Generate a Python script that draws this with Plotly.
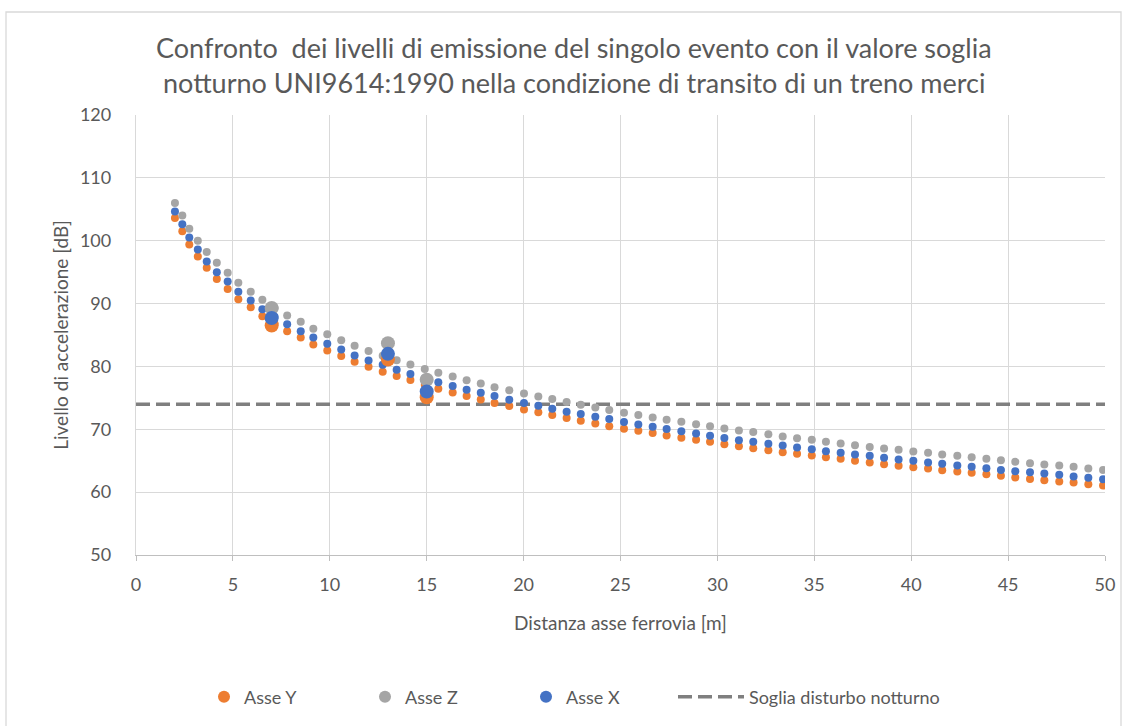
import plotly.graph_objects as go

# Distanze dall'asse ferrovia [m] del modello di propagazione
distanza_m = [
    2.01, 2.39, 2.75, 3.19, 3.65, 4.17, 4.73, 5.28, 5.92, 6.52, 7.15, 7.80, 8.50, 9.15,
    9.87, 10.59, 11.28, 12.00, 12.73, 13.45, 14.16, 14.90, 15.60, 16.34, 17.06, 17.79, 18.50, 19.26,
    20.02, 20.76, 21.48, 22.22, 22.95, 23.70, 24.42, 25.18, 25.92, 26.66, 27.38, 28.14, 28.90, 29.62,
    30.36, 31.11, 31.85, 32.63, 33.37, 34.11, 34.87, 35.60, 36.36, 37.10, 37.86, 38.60, 39.35,
    40.11, 40.87, 41.60, 42.38, 43.12, 43.88, 44.63, 45.37, 46.13, 46.87, 47.64, 48.38, 49.14, 49.90,
]

# Livelli di accelerazione [dB] per asse
asse_y = [
    103.6, 101.5, 99.4, 97.5, 95.7, 93.9, 92.3, 90.7, 89.4, 88.0, 86.8, 85.6, 84.6, 83.5,
    82.55, 81.66, 80.75, 79.96, 79.16, 78.47, 77.83, 77.1, 76.45, 75.86, 75.3, 74.75, 74.2, 73.7,
    73.15, 72.73, 72.26, 71.78, 71.35, 70.92, 70.5, 70.08, 69.76, 69.39, 69.01, 68.64, 68.32, 68.0,
    67.63, 67.32, 67.0, 66.68, 66.36, 66.09, 65.82, 65.56, 65.3, 64.98, 64.71, 64.45, 64.18,
    63.97, 63.75, 63.49, 63.28, 63.07, 62.86, 62.59, 62.32, 62.11, 61.9, 61.68, 61.52, 61.26, 61.04,
]
asse_z = [
    106.0, 104.0, 101.9, 100.0, 98.2, 96.5, 94.9, 93.3, 91.9, 90.6, 89.3, 88.1, 87.1, 86.0,
    85.1, 84.15, 83.3, 82.45, 81.7, 81.0, 80.3, 79.6, 79.0, 78.4, 77.8, 77.3, 76.7, 76.2,
    75.7, 75.22, 74.8, 74.33, 73.9, 73.47, 73.05, 72.63, 72.26, 71.88, 71.5, 71.2, 70.82, 70.5,
    70.13, 69.81, 69.55, 69.23, 68.85, 68.59, 68.32, 68.0, 67.74, 67.47, 67.2, 66.94, 66.73,
    66.46, 66.25, 65.98, 65.77, 65.56, 65.3, 65.09, 64.82, 64.6, 64.39, 64.23, 64.02, 63.75, 63.54,
]
asse_x = [
    104.65, 102.6, 100.5, 98.6, 96.7, 95.0, 93.5, 91.9, 90.5, 89.1, 87.9, 86.7, 85.6, 84.6,
    83.6, 82.7, 81.75, 80.96, 80.27, 79.48, 78.8, 78.1, 77.5, 76.9, 76.3, 75.8, 75.3, 74.7,
    74.17, 73.74, 73.26, 72.79, 72.42, 71.99, 71.62, 71.14, 70.77, 70.4, 70.03, 69.7, 69.33, 68.96,
    68.6, 68.27, 68.0, 67.69, 67.42, 67.1, 66.84, 66.52, 66.25, 65.98, 65.77, 65.46, 65.19,
    64.98, 64.71, 64.5, 64.23, 64.02, 63.81, 63.54, 63.33, 63.17, 62.95, 62.75, 62.48, 62.27, 62.06,
]

# Punti di misura
distanza_misura_m = [7, 13, 15]
misura_y = [86.5, 81.1, 75.1]
misura_z = [89.3, 83.7, 77.9]
misura_x = [87.7, 82.0, 76.0]

# Valore soglia notturno UNI9614:1990
soglia_x = [0, 50]
soglia_db = 74

COL_Y = "#ED7D31"
COL_Z = "#A5A5A5"
COL_X = "#4472C4"
COL_SOGLIA = "#7F7F7F"
FONT = "Lato, 'Open Sans', sans-serif"
TXT = "#595959"

W, H = 1126, 726
L, R, T, B = 136, 21, 115, 171
plot_w = W - L - R
plot_h = H - T - B


def px_x(p):
    """Pixel column -> paper x."""
    return (p - L) / plot_w


def px_y(p):
    """Pixel row -> paper y."""
    return ((H - B) - p) / plot_h


fig = go.Figure()

fig.add_trace(go.Scatter(
    x=soglia_x, y=[soglia_db] * len(soglia_x), mode="lines",
    name="Soglia disturbo notturno", legend="legend2",
    line=dict(color=COL_SOGLIA, width=3.5, dash="14px,6px"),
))

for nome, valori, colore in [
    ("Asse Y", asse_y, COL_Y),
    ("Asse Z", asse_z, COL_Z),
    ("Asse X", asse_x, COL_X),
]:
    fig.add_trace(go.Scatter(
        x=distanza_m, y=valori, mode="markers", name=nome,
        legendgroup=nome,
        marker=dict(color=colore, size=8, line=dict(width=0)),
    ))

for nome, valori, colore in [
    ("Asse Y", misura_y, COL_Y),
    ("Asse Z", misura_z, COL_Z),
    ("Asse X", misura_x, COL_X),
]:
    fig.add_trace(go.Scatter(
        x=distanza_misura_m, y=valori, mode="markers", name=nome,
        legendgroup=nome, showlegend=False,
        marker=dict(color=colore, size=14, line=dict(width=0)),
    ))

titolo = [
    "Confronto  dei livelli di emissione del singolo evento con il valore soglia",
    "notturno UNI9614:1990 nella condizione di transito di un treno merci",
]
annotations = [
    dict(text=riga, xref="paper", yref="paper",
         x=px_x(574), y=px_y(yc), showarrow=False,
         xanchor="center", yanchor="middle",
         font=dict(family=FONT, size=27, color=TXT))
    for riga, yc in zip(titolo, [47, 83])
]

legend_font = dict(family=FONT, size=18, color=TXT)

fig.update_layout(
    width=W, height=H,
    margin=dict(l=L, r=R, t=T, b=B, pad=0, autoexpand=False),
    paper_bgcolor="white", plot_bgcolor="white",
    font=dict(family=FONT, color=TXT, size=18),
    showlegend=True,
    annotations=annotations,
    legend=dict(
        orientation="h", x=px_x(204), xanchor="left",
        y=px_y(697), yanchor="middle",
        entrywidth=116, entrywidthmode="pixels",
        itemsizing="constant",
        font=legend_font, traceorder="normal",
    ),
    legend2=dict(
        orientation="h", x=px_x(673), xanchor="left",
        y=px_y(697), yanchor="middle",
        itemwidth=66,
        font=legend_font,
    ),
    xaxis=dict(
        range=[0, 50], dtick=5, tick0=0,
        showgrid=True, gridcolor="#D9D9D9", gridwidth=1.3,
        showline=True, linecolor="#BFBFBF", linewidth=1.3,
        ticks="outside", ticklen=5, tickcolor="#BFBFBF", tickwidth=1.3,
        zeroline=False, ticklabelstandoff=8,
        tickfont=dict(family=FONT, size=18, color=TXT),
        title=dict(text="Distanza asse ferrovia [m]", standoff=22,
                   font=dict(family=FONT, size=19, color=TXT)),
    ),
    yaxis=dict(
        range=[50, 120], dtick=10, tick0=50,
        showgrid=True, gridcolor="#D9D9D9", gridwidth=1.3,
        showline=True, linecolor="#D9D9D9", linewidth=1.3,
        ticks="", zeroline=False,
        ticklabelstandoff=20,
        tickfont=dict(family=FONT, size=18, color=TXT),
        title=dict(text="Livello di accelerazione [dB]", standoff=6,
                   font=dict(family=FONT, size=19, color=TXT)),
    ),
    shapes=[dict(
        type="rect", xref="paper", yref="paper",
        x0=px_x(6), x1=px_x(1121),
        y0=px_y(740), y1=px_y(12),
        line=dict(color="#D9D9D9", width=1.3), fillcolor="rgba(0,0,0,0)",
        layer="below",
    )],
)

fig.write_html("out.html")
